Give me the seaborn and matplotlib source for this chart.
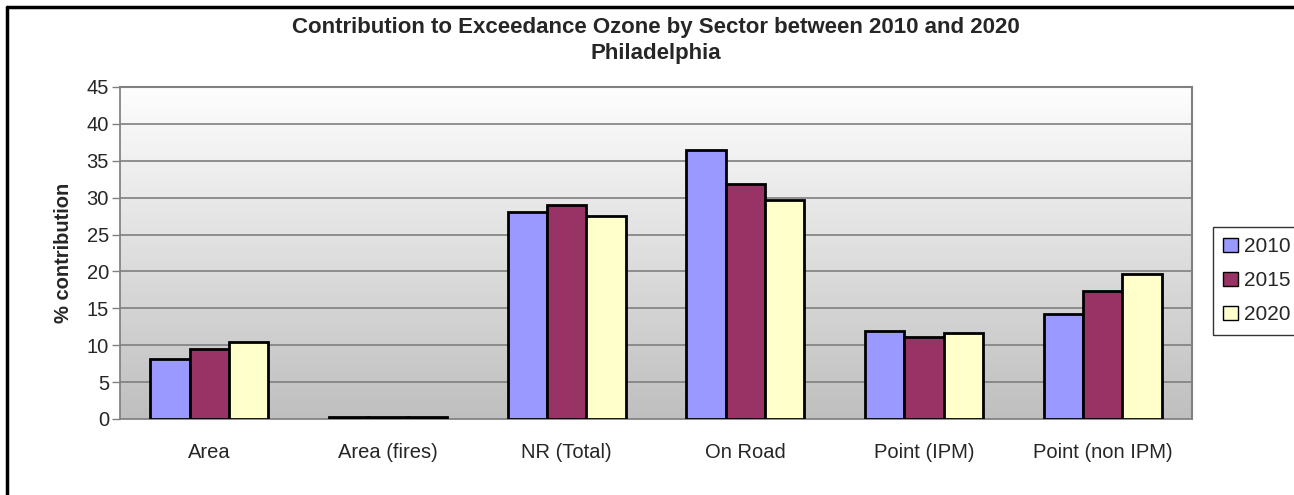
import numpy as np
import pandas as pd
import matplotlib
matplotlib.use("Agg")
import matplotlib.pyplot as plt
from matplotlib.lines import Line2D
from matplotlib.colors import LinearSegmentedColormap
import seaborn as sns

sectors = ["Area", "Area (fires)", "NR (Total)", "On Road", "Point (IPM)", "Point (non IPM)"]
years = ["2010", "2015", "2020"]
vals_2010 = [8.1, 0.3, 28.1, 36.4, 11.9, 14.2]
vals_2015 = [9.5, 0.3, 29.0, 31.8, 11.1, 17.4]
vals_2020 = [10.4, 0.3, 27.5, 29.7, 11.6, 19.7]
colors = ["#9999FF", "#993366", "#FFFFCC"]
yticks = list(range(0, 50, 5))

df = pd.DataFrame({
    "sector": sectors * 3,
    "year": [y for y in years for _ in sectors],
    "value": vals_2010 + vals_2015 + vals_2020,
})

sns.set_theme(style="white")
plt.rcParams["font.family"] = ["Liberation Sans", "DejaVu Sans"]

W, H = 1294, 495
fig = plt.figure(figsize=(W / 100, H / 100), dpi=100)
ax = fig.add_axes([120 / W, 1 - 419 / H, (1192 - 120) / W, (419 - 87) / H])

# gradient plot-area background, light at top to gray at bottom
cmap = LinearSegmentedColormap.from_list("bg", ["#bfbfbf", "#fefefe"])
grad = np.linspace(0, 1, 256).reshape(-1, 1)
ax.imshow(grad, cmap=cmap, aspect="auto", origin="lower",
          extent=[0, 1, 0, 1], transform=ax.transAxes, zorder=0)

sns.barplot(data=df, x="sector", y="value", hue="year", palette=colors,
            order=sectors, hue_order=years, width=0.66, ax=ax,
            edgecolor="black", linewidth=2, saturation=1, zorder=3)

ax.set_ylim(0, 45)
ax.set_xlim(-0.5, len(sectors) - 0.5)
ax.set_yticks(yticks)
ax.set_yticklabels([str(t) for t in yticks], fontsize=14.5)
for t in yticks[1:]:
    ax.axhline(t, color="#7f7f7f", linewidth=1.2, zorder=1)

ax.set_xticks(range(len(sectors)))
ax.set_xticklabels(sectors, fontsize=14.5)
ax.tick_params(axis="x", length=0, pad=17)
ax.set_xticks(np.arange(-0.5, len(sectors), 1.0), minor=True)
ax.tick_params(axis="x", which="minor", length=7, width=1, color="#808080", direction="out")
ax.tick_params(axis="y", length=6, width=1, color="#808080", direction="out", pad=2, left=True)

for side in ["top", "right"]:
    ax.spines[side].set_visible(True)
    ax.spines[side].set_color("#808080")
    ax.spines[side].set_linewidth(1.5)
ax.spines["left"].set_color("#808080")
ax.spines["bottom"].set_color("#808080")

ax.set_xlabel("")
ax.set_ylabel("% contribution", fontsize=14.5, fontweight="bold", labelpad=10)

ax.get_legend().remove()
handles = [plt.Rectangle((0, 0), 1, 1, facecolor=c, edgecolor="black", linewidth=1) for c in colors]
fig.legend(handles, years, loc="upper left", bbox_to_anchor=(1213 / W, 1 - 227 / H),
           frameon=True, fancybox=False, edgecolor="black", fontsize=15,
           handlelength=0.7, handleheight=0.7, handletextpad=0.3,
           labelspacing=0.72, borderpad=0.5, borderaxespad=0)

fig.text(0.5 * (120 + 1192) / W, 1 - 28 / H,
         "Contribution to Exceedance Ozone by Sector between 2010 and 2020",
         ha="center", va="center", fontsize=16, fontweight="bold")
fig.text(0.5 * (120 + 1192) / W, 1 - 53 / H, "Philadelphia",
         ha="center", va="center", fontsize=16, fontweight="bold")

# outer chart border
fig.add_artist(Line2D([7 / W, 7 / W], [0, 1 - 7 / H], color="black", linewidth=2.5))
fig.add_artist(Line2D([7 / W, 1], [1 - 7 / H, 1 - 7 / H], color="black", linewidth=2.5))

fig.savefig("out.png", dpi=100)
